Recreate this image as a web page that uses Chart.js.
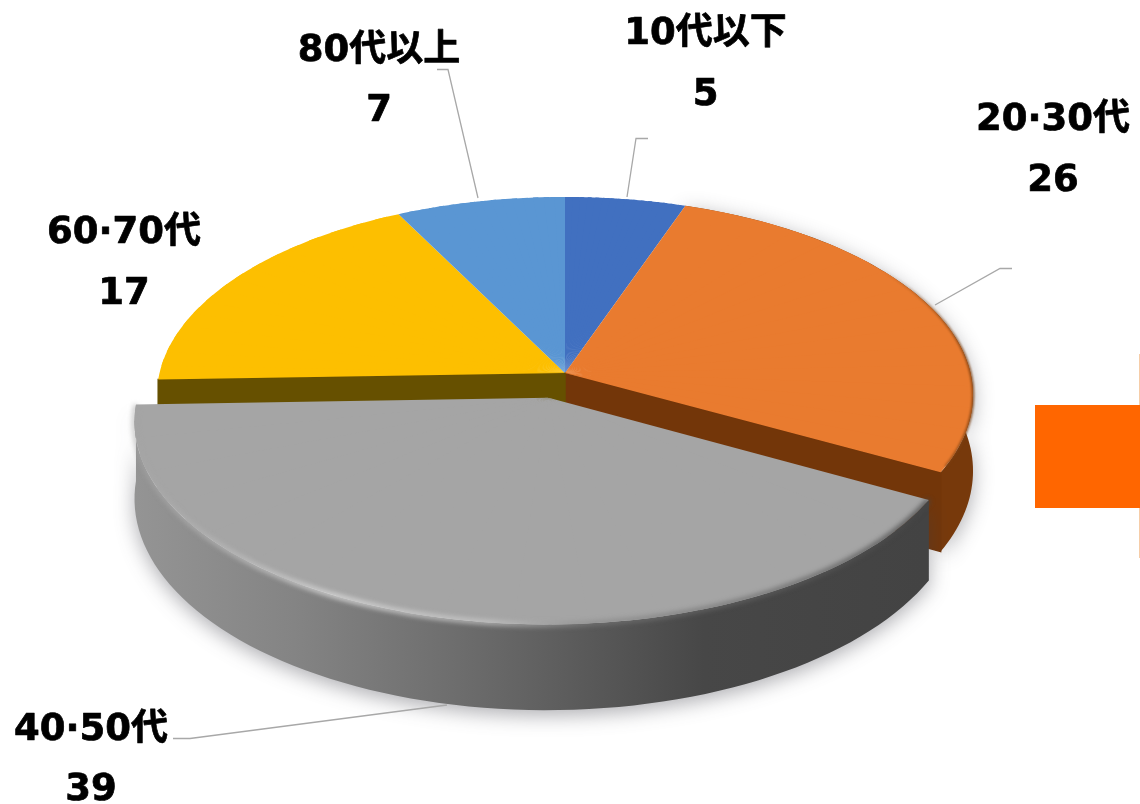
<!DOCTYPE html>
<html lang="ja">
<head>
<meta charset="utf-8">
<style>
html,body{margin:0;padding:0;background:#fff;overflow:hidden}
#wrap{width:1140px;height:804px;position:relative}
canvas{display:block}
</style>
<script src="https://cdn.jsdelivr.net/npm/chart.js@4"></script>
</head>
<body>
<div id="wrap"><canvas id="c" width="1140" height="804"></canvas></div>
<script>
const categories = ['10代以下', '20・30代', '40・50代', '60・70代', '80代以上'];
const displayNames = ['10代以下', '20·30代', '40·50代', '60·70代', '80代以上'];
const values = [5, 26, 39, 17, 7];
const sliceColors = ['#4170c0', '#e97b2f', '#a5a5a5', '#fdbf00', '#5a96d3'];

/* view of the tilted disc */
const view = {cx: 565, cy: 373, rx: 405.5, ry: 195.6, k: 0.111, depth: 75};
const explodedIndex = 2;
const explodeShift = [-0.04, -0.125];

/* label placement: centre x, first baseline, second baseline, leader polyline */
const labelLayout = [
  {x: 705.5, y1: 44, y2: 105, line: [[648,138.5],[636,138.5],[627,197]]},
  {x: 1053, y1: 130, y2: 191, line: [[1012,268.5],[1000,268.5],[935,305]]},
  {x: 91, y1: 740, y2: 800, line: [[173,738.5],[190,738.5],[447,705]]},
  {x: 124, y1: 243, y2: 304, line: null},
  {x: 379, y1: 60.5, y2: 121, line: [[437,69.5],[448,69.5],[478,198]]}
];

function project(angle, i, z) {
  const s = i === explodedIndex ? explodeShift : [0, 0];
  return rim(Math.cos(angle) + s[0], -Math.sin(angle) + s[1], z);
}
function rim(u, v, z) {
  const w = 1 + view.k * v;
  return [view.cx + view.rx * u / w, view.cy - view.ry * v / w + (z || 0) / w];
}
function apex(i, z) {
  const s = i === explodedIndex ? explodeShift : [0, 0];
  return rim(s[0], s[1], z);
}
function arcPoints(a0, a1, i, z) {
  const pts = [], n = 80;
  for (let j = 0; j <= n; j++) pts.push(project(a0 + (a1 - a0) * j / n, i, z));
  return pts;
}
function tracePts(ctx, pts, move) {
  pts.forEach((p, j) => (j === 0 && move) ? ctx.moveTo(p[0], p[1]) : ctx.lineTo(p[0], p[1]));
}

/* Draw one library arc element through a per-sector affine map onto the tilted disc */
function drawArcElement(ctx, arc, i) {
  const start = arc.startAngle, end = arc.endAngle, circ = arc.circumference;
  const n = 16, R = arc.outerRadius, T0 = apex(i);
  const step = (end - start) / n;
  for (let j = 0; j < n; j++) {
    const a = start + step * j;
    const b = a + step;
    /* the map is fixed on a..b; the drawn sector overlaps the next one to hide seams */
    const drawEnd = j < n - 1 ? b + step * 0.5 : b;
    const s1 = [R * Math.cos(a), R * Math.sin(a)], s2 = [R * Math.cos(b), R * Math.sin(b)];
    const p1 = project(a, i), p2 = project(b, i);
    const t1 = [p1[0] - T0[0], p1[1] - T0[1]], t2 = [p2[0] - T0[0], p2[1] - T0[1]];
    const det = s1[0] * s2[1] - s2[0] * s1[1];
    const A = (t1[0] * s2[1] - t2[0] * s1[1]) / det;
    const C = (t2[0] * s1[0] - t1[0] * s2[0]) / det;
    const B = (t1[1] * s2[1] - t2[1] * s1[1]) / det;
    const D = (t2[1] * s1[0] - t1[1] * s2[0]) / det;
    ctx.save();
    ctx.transform(A, B, C, D, T0[0] - A * arc.x - C * arc.y, T0[1] - B * arc.x - D * arc.y);
    arc.startAngle = a; arc.endAngle = drawEnd; arc.circumference = drawEnd - a;
    arc.draw(ctx);
    ctx.restore();
  }
  arc.startAngle = start; arc.endAngle = end; arc.circumference = circ;
}

function wall(ctx, a0, a1, i, fill, shadow) {
  const h = view.depth;
  ctx.save();
  if (shadow) { ctx.shadowColor = 'rgba(60,60,70,.42)'; ctx.shadowBlur = 20; ctx.shadowOffsetY = 5; }
  ctx.beginPath();
  tracePts(ctx, arcPoints(a0, a1, i, 0), true);
  tracePts(ctx, arcPoints(a1, a0, i, h), false);
  ctx.closePath();
  ctx.fillStyle = fill;
  ctx.fill();
  ctx.restore();
}
function cutFace(ctx, a, i, fill) {
  const h = view.depth, A = apex(i), B = project(a, i), C = project(a, i, h), D = apex(i, h);
  ctx.beginPath();
  tracePts(ctx, [A, B, C, D], true);
  ctx.closePath();
  ctx.fillStyle = fill;
  ctx.strokeStyle = fill;
  ctx.lineWidth = 1.5;
  ctx.fill();
  ctx.stroke();
}
function rimStroke(ctx, a0, a1, i, style, width, blur) {
  ctx.save();
  ctx.filter = 'blur(' + blur + 'px)';
  ctx.beginPath();
  tracePts(ctx, arcPoints(a0, a1, i, 0), true);
  ctx.strokeStyle = style;
  ctx.lineWidth = width;
  ctx.stroke();
  ctx.restore();
}

const discPlugin = {
  id: 'disc',
  beforeDatasetDraw(chart, args) {
    const ctx = chart.ctx, arcs = chart.getDatasetMeta(args.index).data;
    const back = arcs.map((_, i) => i).filter(i => i !== explodedIndex);
    const orange = arcs[1], yellow = arcs[3], grey = arcs[explodedIndex];

    /* back slices */
    wall(ctx, orange.startAngle, orange.endAngle, 1, '#77390b', true);
    cutFace(ctx, orange.endAngle, 1, '#733609');
    cutFace(ctx, yellow.startAngle, 3, '#665000');
    back.forEach(i => drawArcElement(ctx, arcs[i], i));
    const orim = ctx.createLinearGradient(880, 0, 970, 0);
    orim.addColorStop(0, 'rgba(125,65,18,0)'); orim.addColorStop(1, 'rgba(125,65,18,.85)');
    rimStroke(ctx, orange.startAngle + 0.6, orange.endAngle - 0.03, 1, orim, 2.5, 1);

    /* pulled-out slice */
    const gg = ctx.createLinearGradient(136, 0, 925, 0);
    gg.addColorStop(0, '#949494'); gg.addColorStop(0.2, '#848484');
    gg.addColorStop(0.4, '#6e6e6e'); gg.addColorStop(0.55, '#5c5c5c');
    gg.addColorStop(0.72, '#474747'); gg.addColorStop(1, '#434343');
    wall(ctx, grey.startAngle, grey.endAngle, explodedIndex, gg, true);
    drawArcElement(ctx, grey, explodedIndex);
    const hl = ctx.createLinearGradient(136, 0, 925, 0);
    hl.addColorStop(0, 'rgba(165,165,165,.6)'); hl.addColorStop(0.25, 'rgba(215,215,215,.95)');
    hl.addColorStop(0.45, 'rgba(200,200,200,.8)'); hl.addColorStop(0.58, 'rgba(130,130,130,.6)');
    hl.addColorStop(1, 'rgba(70,70,70,.85)');
    rimStroke(ctx, grey.startAngle, grey.endAngle, explodedIndex, hl, 5, 2.4);
    return false;
  },
  afterDraw(chart) {
    const ctx = chart.ctx;
    ctx.save();
    /* neighbouring slide elements cut by the picture's edge */
    ctx.fillStyle = '#f6cda8';
    ctx.fillRect(1139, 354, 1, 204);
    ctx.fillStyle = '#ff6600';
    ctx.fillRect(1035, 405, 105, 103);

    /* leader lines */
    ctx.strokeStyle = '#a8a8a8';
    ctx.lineWidth = 1.3;
    labelLayout.forEach(l => {
      if (!l.line) return;
      ctx.beginPath();
      tracePts(ctx, l.line, true);
      ctx.stroke();
    });

    /* labels */
    ctx.fillStyle = '#000';
    ctx.strokeStyle = '#000';
    ctx.lineWidth = 0.7;
    ctx.lineJoin = 'round';
    ctx.textAlign = 'center';
    ctx.textBaseline = 'alphabetic';
    ctx.font = 'bold 37px "DejaVu Sans", "Noto Sans CJK JP"';
    labelLayout.forEach((l, i) => {
      [[displayNames[i], l.y1], [String(values[i]), l.y2]].forEach(([t, y]) => {
        ctx.fillText(t, l.x, y);
        ctx.strokeText(t, l.x, y);
      });
    });
    ctx.restore();
  }
};

new Chart(document.getElementById('c'), {
  type: 'pie',
  data: {
    labels: categories,
    datasets: [{data: values, backgroundColor: sliceColors, borderWidth: 0}]
  },
  options: {
    responsive: false,
    animation: false,
    rotation: 0,
    plugins: {legend: {display: false}, tooltip: {enabled: false}}
  },
  plugins: [discPlugin]
});
</script>
</body>
</html>
